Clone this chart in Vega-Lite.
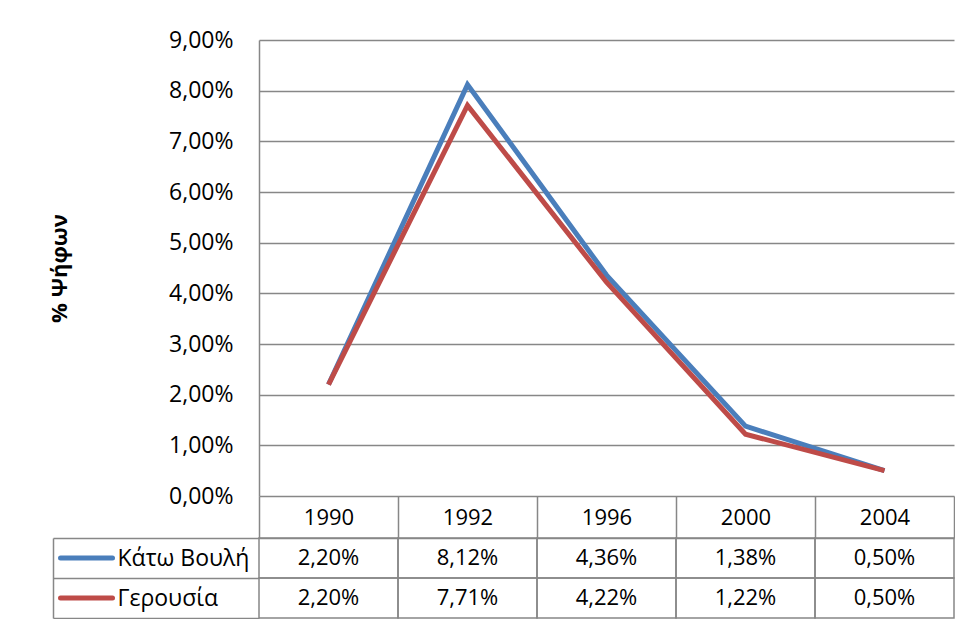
{
  "$schema": "https://vega.github.io/schema/vega-lite/v6.json",
  "padding": {"left": 48, "top": 29, "right": 0, "bottom": 0},
  "spacing": 42,
  "bounds": "flush",
  "config": {
    "view": {"stroke": null},
    "font": "Open Sans",
    "locale": {"number": {"decimal": ",", "thousands": ".", "grouping": [3], "currency": ["", "€"]}}
  },
  "data": {
    "values": [
      {"year": "1990", "series": "Κάτω Βουλή", "value": 0.0220},
      {"year": "1992", "series": "Κάτω Βουλή", "value": 0.0812},
      {"year": "1996", "series": "Κάτω Βουλή", "value": 0.0436},
      {"year": "2000", "series": "Κάτω Βουλή", "value": 0.0138},
      {"year": "2004", "series": "Κάτω Βουλή", "value": 0.0050},
      {"year": "1990", "series": "Γερουσία", "value": 0.0220},
      {"year": "1992", "series": "Γερουσία", "value": 0.0771},
      {"year": "1996", "series": "Γερουσία", "value": 0.0422},
      {"year": "2000", "series": "Γερουσία", "value": 0.0122},
      {"year": "2004", "series": "Γερουσία", "value": 0.0050}
    ]
  },
  "vconcat": [
    {
      "width": 695,
      "height": 456,
      "mark": {"type": "line", "strokeWidth": 5},
      "encoding": {
        "x": {"field": "year", "type": "ordinal", "scale": {"type": "band", "paddingInner": 0, "paddingOuter": 0}, "axis": null},
        "y": {
          "field": "value", "type": "quantitative",
          "scale": {"domain": [0, 0.09], "nice": false},
          "axis": {
            "values": [0, 0.01, 0.02, 0.03, 0.04, 0.05, 0.06, 0.07, 0.08, 0.09],
            "format": ".2%",
            "title": "% Ψήφων",
            "titleFontSize": 22,
            "titleFontWeight": "bold",
            "titleColor": "black",
            "titlePadding": 97,
            "labelFontSize": 23,
            "labelColor": "black",
            "labelPadding": 26,
            "ticks": false,
            "grid": true,
            "gridColor": "#878787",
            "gridWidth": 1.5,
            "domainColor": "#878787",
            "domainWidth": 1.5
          }
        },
        "color": {
          "field": "series", "type": "nominal",
          "scale": {"domain": ["Κάτω Βουλή", "Γερουσία"], "range": ["#4A7EBB", "#BE4B48"]},
          "legend": null
        }
      }
    },
    {
      "width": 695,
      "height": 80,
      "encoding": {
        "x": {
          "field": "year", "type": "ordinal",
          "scale": {"type": "band", "paddingInner": 0, "paddingOuter": 0},
          "axis": {
            "orient": "top", "title": null, "labelAngle": 0,
            "labelFontSize": 22, "labelColor": "black",
            "labelBaseline": "middle", "labelPadding": -21,
            "tickBand": "extent", "tickSize": 42,
            "tickColor": "#878787", "tickWidth": 1.5,
            "domainColor": "#878787", "domainWidth": 1.5
          }
        },
        "y": {
          "field": "series", "type": "nominal",
          "scale": {"domain": ["Κάτω Βουλή", "Γερουσία"], "paddingInner": 0, "paddingOuter": 0},
          "axis": {
            "orient": "left", "offset": 206, "title": null,
            "labelAlign": "left", "labelFontSize": 23, "labelColor": "black",
            "labelPadding": 142,
            "tickBand": "extent", "tickSize": -206,
            "tickColor": "#878787", "tickWidth": 1.5,
            "domainColor": "#878787", "domainWidth": 1.5
          }
        }
      },
      "layer": [
        {"mark": {"type": "rect", "fill": "white", "fillOpacity": 0, "stroke": "#878787", "strokeWidth": 1.5}},
        {
          "mark": {"type": "text", "fontSize": 22, "color": "black"},
          "encoding": {"text": {"field": "value", "type": "quantitative", "format": ".2%"}}
        },
        {
          "transform": [{"filter": "datum.year == '1990'"}],
          "mark": {"type": "rule", "strokeWidth": 5, "strokeCap": "round", "xOffset": -198.5, "x2Offset": -216},
          "encoding": {
            "x": {"field": "year", "type": "ordinal", "bandPosition": 0},
            "x2": {"field": "year"},
            "color": {"field": "series", "type": "nominal", "legend": null}
          }
        }
      ]
    }
  ]
}
